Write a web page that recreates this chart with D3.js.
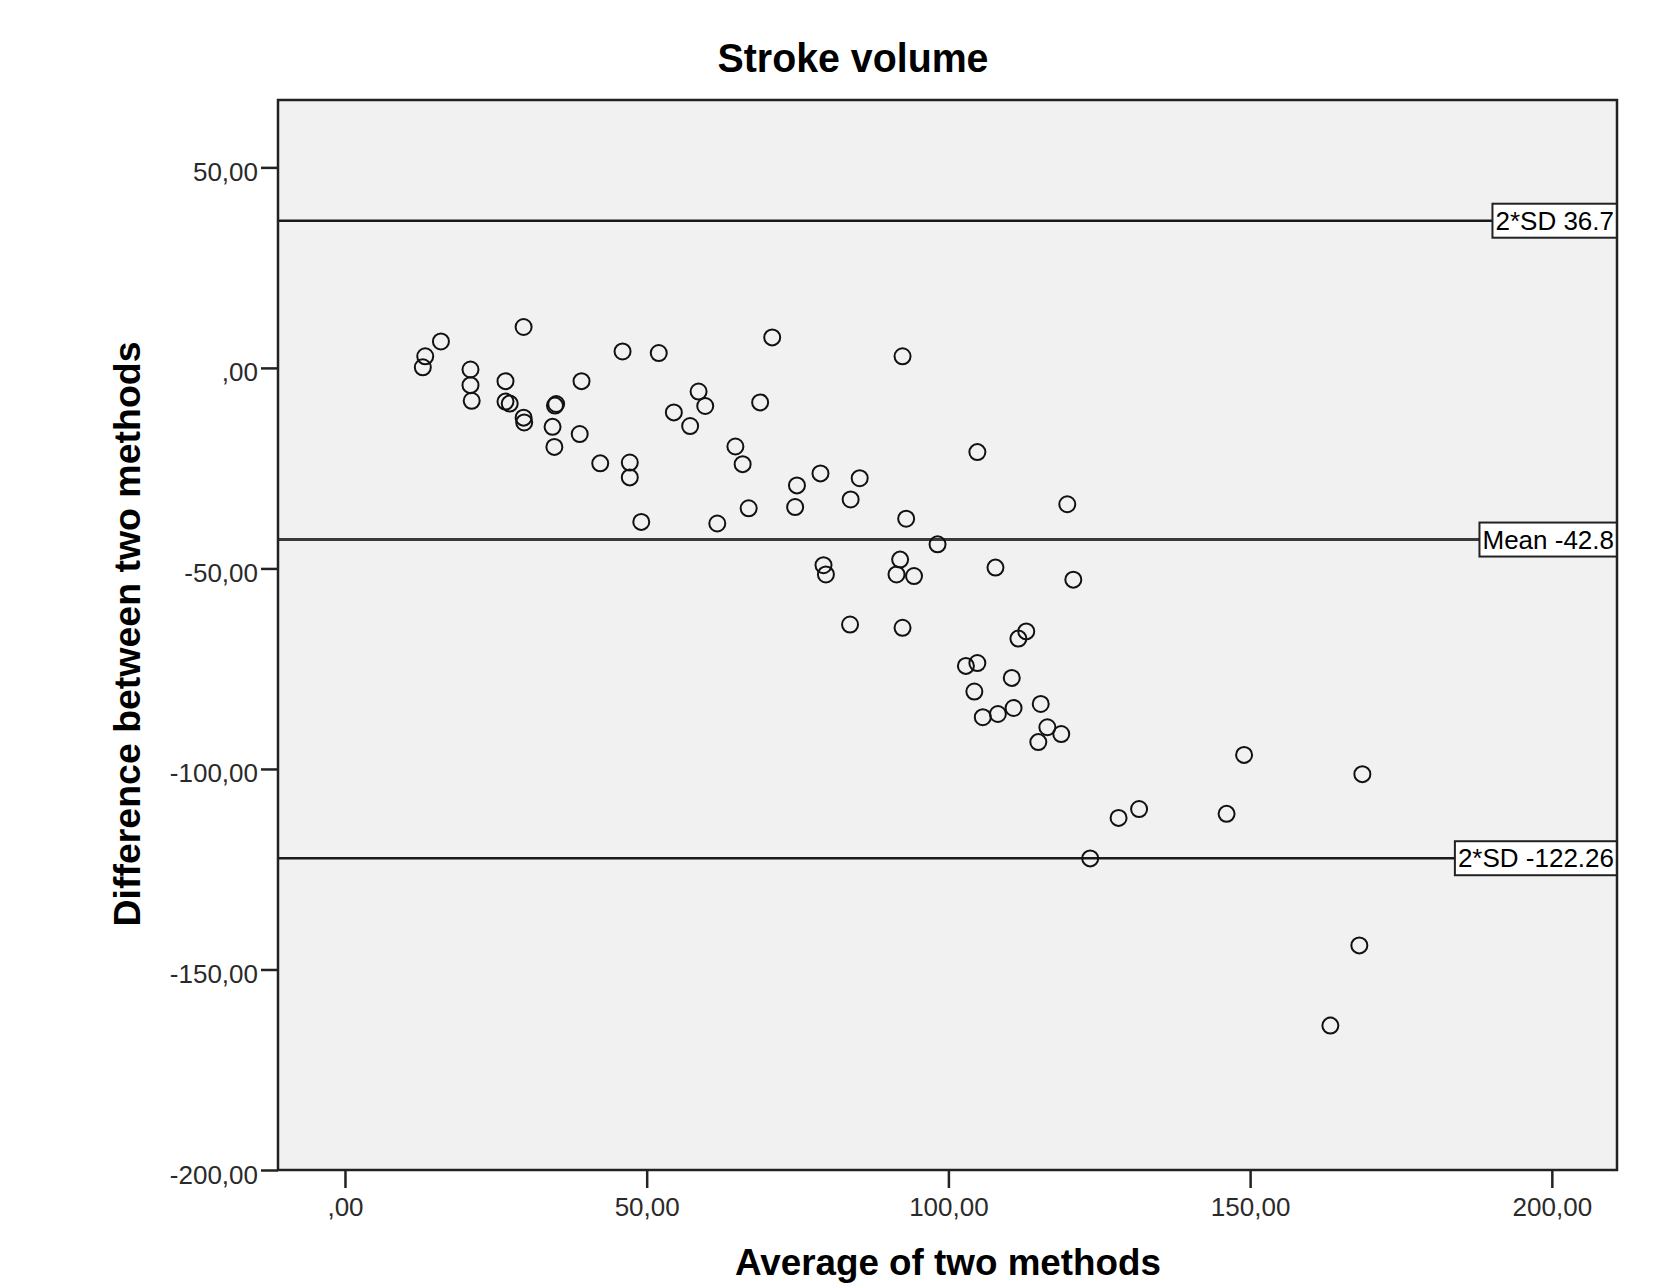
<!DOCTYPE html>
<html>
<head>
<meta charset="utf-8">
<script src="https://cdn.jsdelivr.net/npm/d3@7"></script>
<style>
  body { margin: 0; background: #fff; }
  svg text { font-family: "Liberation Sans", Arial, sans-serif; }
</style>
</head>
<body>
<div id="chart"></div>
<script>
// Bland-Altman data: average of two methods vs difference
var avgValues = [
  12.9, 13.3, 15.9, 29.6, 20.8, 20.8, 21.0, 26.6, 26.6, 27.3,
  29.6, 29.7, 34.8, 35.0, 34.4, 34.7, 39.2, 38.9, 42.3, 46.0,
  47.2, 47.2, 49.1, 52.0, 54.5, 58.6, 59.7, 57.2, 61.7, 70.8,
  68.8, 64.7, 65.9, 66.9, 74.9, 74.6,
  92.4, 104.8, 78.8, 85.3, 83.8, 93.0, 98.2, 79.3, 79.7, 92.0,
  91.4, 94.3, 107.8, 83.7, 92.4,
  119.7, 120.7, 112.9, 111.6, 104.8, 102.9, 110.5, 104.3, 105.7, 108.2,
  110.8, 115.3, 116.4, 118.7, 114.9,
  149.0, 168.6, 128.2, 131.6, 146.1, 123.5, 168.1, 163.3
];
var diffValues = [
  0.15, 2.9, 6.6, 10.2, -0.4, -4.3, -8.2, -3.3, -8.4, -8.9,
  -12.4, -13.6, -9.4, -9.0, -14.7, -19.7, -3.3, -16.5, -23.8, 4.1,
  -23.6, -27.3, -38.4, 3.7, -11.1, -5.9, -9.5, -14.5, -38.8, 7.6,
  -8.6, -19.6, -24.0, -35.0, -29.3, -34.7,
  2.9, -21.0, -26.3, -27.5, -32.8, -37.6, -44.0, -49.2, -51.5, -47.8,
  -51.5, -51.9, -49.8, -64.0, -64.8,
  -34.0, -52.8, -65.7, -67.5, -73.6, -74.3, -77.3, -80.7, -87.1, -86.3,
  -84.8, -83.8, -89.6, -91.3, -93.3,
  -96.5, -101.3, -112.2, -110.0, -111.2, -122.3, -144.0, -164.0
];

var refValues = [36.7, -42.8, -122.26];
var refLabels = ["2*SD 36.7", "Mean -42.8", "2*SD -122.26"];

var xTicks = [0, 50, 100, 150, 200];
var yTicks = [50, 0, -50, -100, -150, -200];

var points = avgValues.map(function (d, i) { return { avg: d, diff: diffValues[i] }; });

var margin = { top: 100, right: 49, bottom: 114, left: 278 },
  fullW = 1666, fullH = 1284,
  width = fullW - margin.left - margin.right,
  height = fullH - margin.top - margin.bottom;

// spss style decimal comma, zero without leading digit
function fmt(v) {
  var s = d3.format(".2f")(Math.abs(v)).replace(".", ",");
  if (Math.abs(v) < 1) s = s.replace(/^0/, "");
  return (v < 0 ? "-" : "") + s;
}

var svg = d3.select("#chart")
  .append("svg")
  .attr("width", fullW)
  .attr("height", fullH);

var g = svg.append("g")
  .attr("transform", "translate(" + margin.left + "," + margin.top + ")");

var xScale = d3.scaleLinear()
  .domain([-11.1, 210.8])
  .range([0, width]);

var yScale = d3.scaleLinear()
  .domain([-200, 66.8])
  .range([height, 0]);

// plot area
g.append("rect")
  .attr("width", width)
  .attr("height", height)
  .attr("fill", "#f0f1f0");

// reference lines
g.append("g")
  .selectAll("line")
  .data(refValues)
  .enter()
  .append("line")
  .attr("x1", 0)
  .attr("x2", width)
  .attr("y1", function (d) { return yScale(d); })
  .attr("y2", function (d) { return yScale(d); })
  .attr("stroke", function (d, i) { return i == 1 ? "#3a3a3a" : "#1a1a1a"; })
  .attr("stroke-width", function (d, i) { return i == 1 ? 3 : 2.5; });

// points
g.append("g")
  .selectAll("circle")
  .data(points)
  .enter()
  .append("circle")
  .attr("cx", function (d) { return xScale(d.avg); })
  .attr("cy", function (d) { return yScale(d.diff); })
  .attr("r", 8)
  .attr("fill", "none")
  .attr("stroke", "#111")
  .attr("stroke-width", 2);

// labels on the reference lines
var lab = g.append("g")
  .selectAll("g")
  .data(refValues)
  .enter()
  .append("g")
  .attr("transform", function (d) { return "translate(" + width + "," + yScale(d) + ")"; });

lab.append("rect").attr("class", "box");
lab.append("text")
  .attr("x", -3)
  .attr("y", 9)
  .attr("text-anchor", "end")
  .style("font-size", "26px")
  .attr("fill", "#000")
  .text(function (d, i) { return refLabels[i]; });

lab.each(function () {
  var t = d3.select(this).select("text").node();
  var w = t.getComputedTextLength() + 6;
  d3.select(this).select("rect")
    .attr("x", -w)
    .attr("y", -17)
    .attr("width", w)
    .attr("height", 34)
    .attr("fill", "#fff")
    .attr("stroke", "#222")
    .attr("stroke-width", 2);
});

// frame
g.append("rect")
  .attr("width", width)
  .attr("height", height)
  .attr("fill", "none")
  .attr("stroke", "#222")
  .attr("stroke-width", 2.5);

// axes
var xAxis = g.append("g")
  .attr("transform", "translate(0," + height + ")")
  .call(d3.axisBottom(xScale).tickValues(xTicks).tickFormat(fmt).tickSizeInner(18).tickSizeOuter(0).tickPadding(10));

var yAxis = g.append("g")
  .call(d3.axisLeft(yScale).tickValues(yTicks).tickFormat(fmt).tickSizeInner(17).tickSizeOuter(0).tickPadding(3));

[xAxis, yAxis].forEach(function (a) {
  a.select(".domain").remove();
  a.selectAll(".tick line").attr("stroke", "#222").attr("stroke-width", 2.5);
  a.selectAll(".tick text")
    .attr("fill", "#2a2a2a")
    .style("font-size", "26px")
    .style("font-family", "'Liberation Sans', Arial, sans-serif");
});
yAxis.selectAll(".tick text").attr("dy", "0.5em");

// titles
svg.append("text")
  .attr("x", 853)
  .attr("y", 72)
  .attr("text-anchor", "middle")
  .attr("textLength", 271)
  .attr("lengthAdjust", "spacingAndGlyphs")
  .style("font-size", "40px")
  .style("font-weight", "bold")
  .text("Stroke volume");

svg.append("text")
  .attr("x", 948)
  .attr("y", 1275)
  .attr("text-anchor", "middle")
  .attr("textLength", 426)
  .attr("lengthAdjust", "spacingAndGlyphs")
  .style("font-size", "37px")
  .style("font-weight", "bold")
  .text("Average of two methods");

svg.append("text")
  .attr("transform", "translate(140,634) rotate(-90)")
  .attr("text-anchor", "middle")
  .attr("textLength", 585)
  .attr("lengthAdjust", "spacingAndGlyphs")
  .style("font-size", "37px")
  .style("font-weight", "bold")
  .text("Difference between two methods");
</script>
</body>
</html>
